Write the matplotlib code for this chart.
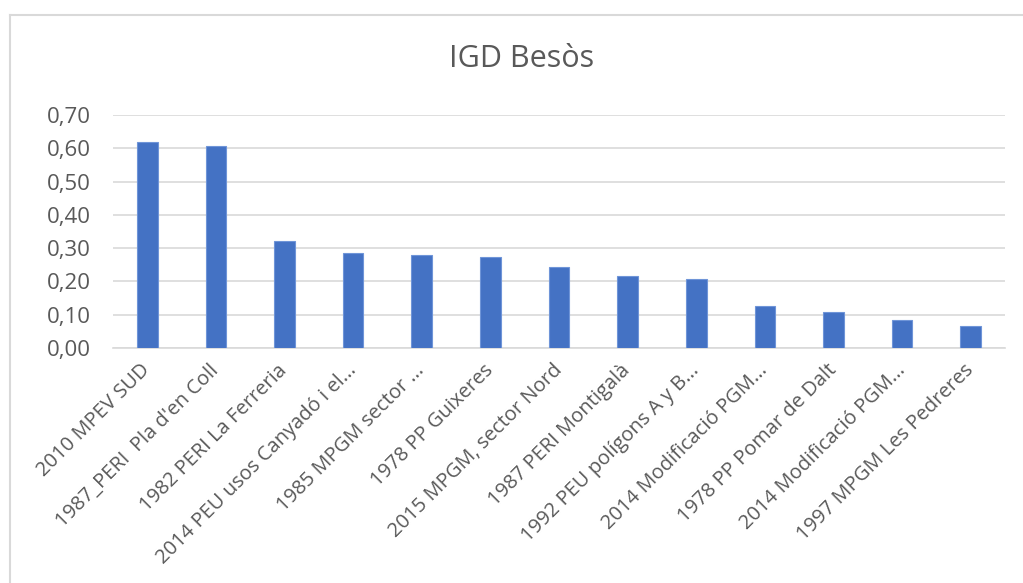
import matplotlib
matplotlib.use('Agg')
import matplotlib.pyplot as plt
from matplotlib.lines import Line2D

# IGD values
categories = ['2010 MPEV SUD', "1987_PERI  Pla d'en Coll", '1982 PERI La Ferreria',
              '2014 PEU usos Canyadó i el...', '1985 MPGM sector ...', '1978 PP Guixeres',
              '2015 MPGM, sector Nord', '1987 PERI Montigalà', '1992 PEU polígons A y B...',
              '2014 Modificació PGM...', '1978 PP Pomar de Dalt', '2014 Modificació PGM...',
              '1997 MPGM Les Pedreres']
values = [0.618, 0.606, 0.320, 0.285, 0.280, 0.274, 0.242, 0.216, 0.208,
          0.125, 0.107, 0.083, 0.067]
yticks = [0.0, 0.1, 0.2, 0.3, 0.4, 0.5, 0.6, 0.7]

plt.rcParams['font.family'] = ['Open Sans', 'DejaVu Sans']
txt = '#595959'

fig = plt.figure(figsize=(10.23, 5.83), dpi=100)
ax = fig.add_axes([113/1023, 1 - 348/583, (1005 - 113)/1023, (348 - 115)/583])

x = range(len(values))
ax.bar(x, values, width=0.3, color='#4472C4', edgecolor='#6f95d8', linewidth=0.8, zorder=3)

ax.set_xlim(-0.5, len(values) - 0.5)
ax.set_ylim(0, 0.7)
ax.set_yticks(yticks)
ax.set_yticklabels([f'{v:.2f}'.replace('.', ',') for v in yticks], fontsize=16, color=txt)
ax.set_xticks(list(x))
ax.set_xticklabels(categories, rotation=45, ha='right', va='center',
                   rotation_mode='anchor', fontsize=14.5, color=txt)
ax.tick_params(axis='both', length=0)
ax.tick_params(axis='y', pad=16)
ax.tick_params(axis='x', pad=14)

ax.grid(axis='y', color='#d9d9d9', linewidth=1.2, zorder=0)
for s in ['top', 'right', 'left']:
    ax.spines[s].set_visible(False)
ax.spines['bottom'].set_color('#d9d9d9')
ax.spines['bottom'].set_linewidth(1.2)

fig.text(522/1023, 1 - 59/583, 'IGD Besòs', ha='center', va='center',
         fontsize=22, color=txt)

# chart frame edges (top and left visible in the screenshot)
fig.add_artist(Line2D([10/1023, 1], [1 - 15/583, 1 - 15/583], color='#d9d9d9', lw=1.5,
                      transform=fig.transFigure))
fig.add_artist(Line2D([10/1023, 10/1023], [0, 1 - 15/583], color='#d9d9d9', lw=1.5,
                      transform=fig.transFigure))

fig.savefig('out.png', dpi=100)
